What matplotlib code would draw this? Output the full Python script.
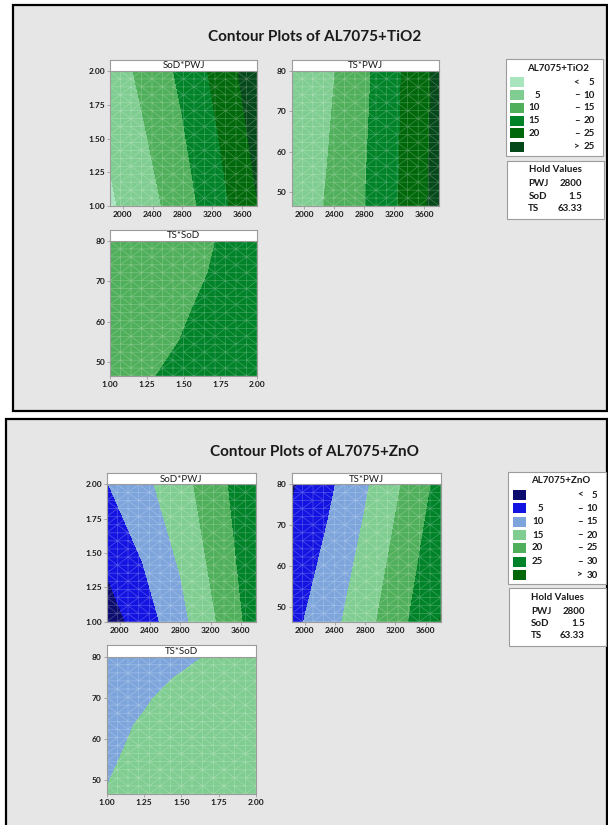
import numpy as np
import matplotlib
matplotlib.use("Agg")
import matplotlib.pyplot as plt
import matplotlib.tri as mtri
from matplotlib.patches import Rectangle

plt.rcParams['font.family'] = ['Lato', 'DejaVu Sans']

# grid nodes of the fitted surfaces
pwj_nodes = [1830, 2300, 2800, 3300, 3800]
sod_rows = [1.0, 2.0]
ts_rows = [46.5, 80.0]
sod_cols = [1.0, 1.25, 1.5, 1.75, 2.0]
ts_rows_tio2 = [46.5, 55.0, 63.33, 72.0, 80.0]
ts_rows_zno = [46.5, 55.0, 63.33, 70.0, 75.0, 80.0]

# AL7075+TiO2 response
tio2_sod_pwj = [[4.3, 7.8, 12.8, 18.4, 24.8],
                [7.1, 11.5, 16.1, 21.9, 28.1]]
tio2_ts_pwj = [[6.5, 10.4, 14.9, 20.5, 27.0],
               [6.0, 8.9, 13.9, 20.1, 26.4]]
tio2_ts_sod = [[14.0, 14.8, 15.6, 16.4, 17.3],
               [13.5, 14.3, 15.1, 16.0, 16.8],
               [13.1, 13.9, 14.8, 15.6, 16.4],
               [12.8, 13.6, 14.4, 15.3, 16.1],
               [12.7, 13.5, 14.3, 15.1, 16.0]]

# AL7075+ZnO response
zno_sod_pwj = [[2.6, 7.2, 13.4, 20.3, 27.4],
               [9.8, 13.6, 18.1, 23.5, 29.1]]
zno_ts_pwj = [[8.5, 13.0, 18.2, 24.1, 30.2],
              [4.4, 8.8, 14.3, 20.3, 26.6]]
zno_ts_sod = [[15.1, 16.2, 17.4, 18.6, 19.7],
              [14.6, 15.8, 17.0, 18.1, 19.2],
              [14.2, 15.3, 16.5, 17.6, 18.7],
              [13.6, 14.7, 15.9, 17.0, 18.2],
              [12.9, 14.1, 15.2, 16.4, 17.6],
              [12.0, 13.2, 14.3, 15.5, 16.7]]

tio2_breaks = [5, 10, 15, 20, 25]
tio2_colors = ['#a8e4be', '#80cd91', '#50af5a', '#008228', '#00680a', '#054819']
zno_breaks = [5, 10, 15, 20, 25, 30]
zno_colors = ['#0c0c6e', '#1414e2', '#7da5dc', '#80cd91', '#50af5a', '#008228', '#00680a']

pwj_ticks = [2000, 2400, 2800, 3200, 3600]
sod_ticks = [1.00, 1.25, 1.50, 1.75, 2.00]
ts_ticks = [50, 60, 70, 80]
pwj_lim = (1830, 3800)
sod_lim = (1.0, 2.0)
ts_lim = (46.5, 80.0)

hold_names = ['PWJ', 'SoD', 'TS']
hold_values = ['2800', '1.5', '63.33']

W, H = 608, 825
fig = plt.figure(figsize=(W / 100, H / 100), dpi=100)
fig.patch.set_facecolor('white')

GRAY = '#9c9c9c'
INK = '#1a1a1a'


def px_axes(l, t, r, b):
    return fig.add_axes([l / W, 1 - b / H, (r - l) / W, (b - t) / H])


def px_rect(l, t, r, b, **kw):
    fig.add_artist(Rectangle((l / W, 1 - b / H), (r - l) / W, (b - t) / H,
                             transform=fig.transFigure, **kw))


def contour_panel(box, xs, ys, z, breaks, colors, xlim, ylim,
                  xticks, yticks, xfmt, yfmt, name):
    l, t, r, b = box
    ax = px_axes(l, t, r, b)
    levels = [-1000] + breaks + [1000]
    ax.contourf(xs, ys, np.array(z), levels=levels, colors=colors)

    # faint triangle mesh over the filled surface
    gx, gy = np.meshgrid(np.linspace(*xlim, 15), np.linspace(*ylim, 18))
    tri = mtri.Triangulation(gx.ravel(), gy.ravel())
    ax.triplot(tri, color='white', lw=0.45, alpha=0.28)

    ax.set_xlim(*xlim)
    ax.set_ylim(*ylim)
    ax.set_xticks(xticks)
    ax.set_yticks(yticks)
    ax.set_xticklabels([xfmt.format(v) for v in xticks])
    ax.set_yticklabels([yfmt.format(v) for v in yticks])
    ax.tick_params(labelsize=6, length=2, width=0.6, color=GRAY,
                   pad=1.5, labelcolor=INK)
    for lab in ax.get_xticklabels() + ax.get_yticklabels():
        lab.set_fontweight('bold')
    for s in ax.spines.values():
        s.set_color(GRAY)
        s.set_linewidth(0.8)

    hd = px_axes(l, t - 11.5, r, t)
    hd.set_xticks([])
    hd.set_yticks([])
    hd.set_facecolor('white')
    for s in hd.spines.values():
        s.set_color(GRAY)
        s.set_linewidth(0.8)
    hd.text(0.5, 0.45, name, ha='center', va='center', fontsize=7,
            color=INK, transform=hd.transAxes)
    return ax


def legend_box(l, t, r, title, breaks, colors, row_y, x_sw, x_lo, x_mid, x_hi):
    b = row_y[-1] + 9
    px_rect(l, t, r, b, fc='white', ec=GRAY, lw=0.8)
    fig.text((l + r) / 2 / W + 0.006, 1 - (t + 9) / H, title, ha='center',
             va='center', fontsize=7, fontweight='bold', color=INK)
    labels = [('', '<', str(breaks[0]))]
    labels += [(str(a), '\u2013', str(c)) for a, c in zip(breaks[:-1], breaks[1:])]
    labels += [('', '>', str(breaks[-1]))]
    for (lo, mid, hi), col, y in zip(labels, colors, row_y):
        px_rect(x_sw, y - 5, x_sw + 13.5, y + 5, fc=col, ec='none')
        yy = 1 - y / H
        fig.text(x_lo / W, yy, lo, ha='right', va='center', fontsize=7,
                 fontweight='bold', color=INK)
        fig.text(x_mid / W, yy, mid, ha='center', va='center', fontsize=7,
                 fontweight='bold', color=INK)
        fig.text(x_hi / W, yy, hi, ha='right', va='center', fontsize=7,
                 fontweight='bold', color=INK)


def hold_box(l, t, r, b, x_name, x_val, ys):
    px_rect(l, t, r, b, fc='white', ec=GRAY, lw=0.8)
    fig.text((l + r) / 2 / W, 1 - ys[0] / H, 'Hold Values', ha='center',
             va='center', fontsize=7, fontweight='bold', color=INK)
    for name, val, y in zip(hold_names, hold_values, ys[1:]):
        fig.text(x_name / W, 1 - y / H, name, ha='left', va='center',
                 fontsize=7, fontweight='bold', color=INK)
        fig.text(x_val / W, 1 - y / H, val, ha='right', va='center',
                 fontsize=7, fontweight='bold', color=INK)


# panel backgrounds
px_rect(12.8, 5.4, 606.5, 411, fc='#e6e6e6', ec='black', lw=1.6, zorder=-5)
px_rect(5.8, 419.4, 606.5, 840, fc='#e6e6e6', ec='black', lw=1.6, zorder=-5)

fig.text(315 / W, 1 - 37 / H, 'Contour Plots of AL7075+TiO2', ha='center',
         va='center', fontsize=11, fontweight='bold', color=INK)
fig.text(315 / W, 1 - 452 / H, 'Contour Plots of AL7075+ZnO', ha='center',
         va='center', fontsize=11, fontweight='bold', color=INK)

# AL7075+TiO2
contour_panel((110, 71, 257, 206), pwj_nodes, sod_rows, tio2_sod_pwj,
              tio2_breaks, tio2_colors, pwj_lim, sod_lim, pwj_ticks, sod_ticks,
              '{:d}', '{:.2f}', 'SoD*PWJ')
contour_panel((291.7, 71, 439.3, 206), pwj_nodes, ts_rows, tio2_ts_pwj,
              tio2_breaks, tio2_colors, pwj_lim, ts_lim, pwj_ticks, ts_ticks,
              '{:d}', '{:d}', 'TS*PWJ')
contour_panel((110, 241, 257, 376), sod_cols, ts_rows_tio2, tio2_ts_sod,
              tio2_breaks, tio2_colors, sod_lim, ts_lim, sod_ticks, ts_ticks,
              '{:.2f}', '{:d}', 'TS*SoD')
legend_box(506, 59.3, 603.3, 'AL7075+TiO2', tio2_breaks, tio2_colors,
           [82.3, 95, 107.7, 120.7, 133.3, 146.7], 510, 540, 576.5, 594.5)
hold_box(506.5, 161, 604, 219, 528.3, 582.3, [170, 184, 196.7, 208.3])

# AL7075+ZnO
contour_panel((106.7, 484.3, 256, 621.7), pwj_nodes, sod_rows, zno_sod_pwj,
              zno_breaks, zno_colors, pwj_lim, sod_lim, pwj_ticks, sod_ticks,
              '{:d}', '{:.2f}', 'SoD*PWJ')
contour_panel((291.7, 484.3, 440.7, 621.7), pwj_nodes, ts_rows, zno_ts_pwj,
              zno_breaks, zno_colors, pwj_lim, ts_lim, pwj_ticks, ts_ticks,
              '{:d}', '{:d}', 'TS*PWJ')
contour_panel((106.7, 656.7, 256, 794), sod_cols, ts_rows_zno, zno_ts_sod,
              zno_breaks, zno_colors, sod_lim, ts_lim, sod_ticks, ts_ticks,
              '{:.2f}', '{:d}', 'TS*SoD')
legend_box(508.3, 471.7, 606.2, 'AL7075+ZnO', zno_breaks, zno_colors,
           [495, 508.3, 521.7, 535, 547.7, 561.7, 575], 512.7, 543.3, 580, 597.7)
hold_box(509, 588.3, 606, 646, 531, 585, [597.5, 611, 623.5, 635])

fig.savefig('out.png', dpi=100)
